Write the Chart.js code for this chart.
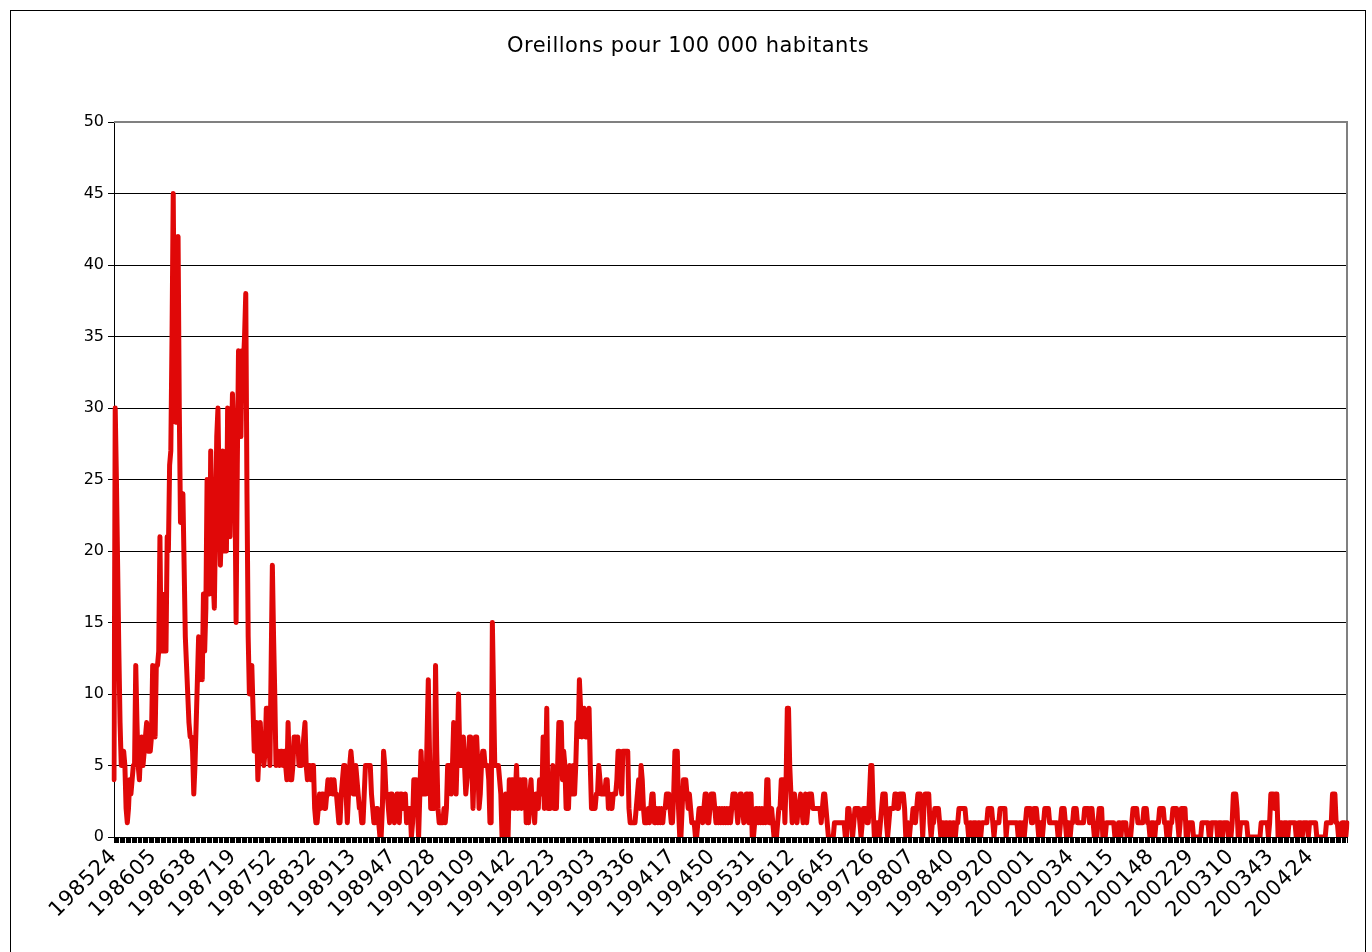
<!DOCTYPE html>
<html><head><meta charset="utf-8">
<script src="https://cdn.jsdelivr.net/npm/chart.js@4.4.0/dist/chart.umd.min.js"></script>
<style>html,body{margin:0;padding:0;background:#fff;overflow:hidden}</style>
</head><body>
<canvas id="c" width="1372" height="952"></canvas>
<script>
const chartTitle = 'Oreillons pour 100 000 habitants';
const tickLabels = ['198524','198605','198638','198719','198752','198832','198913','198947','199028','199109','199142','199223','199303','199336','199417','199450','199531','199612','199645','199726','199807','199840','199920','200001','200034','200115','200148','200229','200310','200343','200424'];
const labelEvery = 33;
const yMin = 0, yMax = 50, yStep = 5;

// weekly incidence (one value per week)
const block0 = [4,30,25,19,13,8,5,5,6,5, 2,1,2,4,3,4,5,5,12,8, 5,4,6,7,5,6,7,8,6,7, 6,7,12,8,7,12,12,13,21,13, 17,13,13,13,21,20,26,27,35,45, 33,29,30,42,30,22,23,24,19,14, 12,10,8,7,7,6,3,5,8,11, 14,11,13,11,17,13,16,25,18,17, 27,22,18,16,22,28,30,24,19,22, 27,20,21,20,30,24,21,27,31,28];
const block1 = [25,15,26,34,30,28,34,33,35,38, 24,14,10,11,12,9,6,7,8,4, 6,8,6,6,5,6,9,9,7,5, 12,19,14,10,5,6,6,5,6,6, 5,6,5,4,8,5,4,4,5,7, 7,6,7,5,5,5,6,7,8,5, 4,5,5,4,5,5,2,1,1,2, 3,2,3,3,2,2,3,4,3,4, 4,3,4,3,3,2,1,1,3,4, 5,5,3,1,3,5,6,5,3,3];
const block2 = [5,4,3,2,2,1,1,3,5,5, 5,5,5,3,2,1,1,2,2,1, 0,0,2,6,5,3,3,2,1,3, 3,2,1,2,3,3,1,3,3,2, 2,3,1,2,2,2,0,1,4,4, 4,2,0,3,6,4,3,3,3,7, 11,6,2,2,2,2,12,6,2,1, 1,1,1,2,1,2,5,5,5,3, 5,8,5,3,6,10,6,5,6,7, 5,3,4,5,7,7,5,2,5,7];
const block3 = [7,5,2,3,5,6,6,5,5,5, 4,1,1,15,10,5,5,5,5,4, 3,0,0,0,3,0,0,4,2,4, 4,2,3,5,2,3,4,2,4,4, 4,1,2,1,3,4,2,2,1,3, 3,2,4,4,3,7,2,4,9,2, 2,2,3,5,2,2,2,5,8,8, 8,4,6,5,2,2,2,5,3,4, 5,3,5,8,7,11,9,7,8,9, 7,7,7,9,5,2,2,2,2,3];
const block4 = [3,5,4,3,3,3,3,4,4,2, 3,2,2,3,3,3,4,6,6,4, 3,6,6,6,6,6,2,1,1,1, 1,1,2,3,4,2,5,4,2,1, 1,1,2,1,2,3,3,1,1,2, 1,2,1,2,1,2,2,3,3,3, 2,1,1,3,6,6,6,2,0,0, 2,4,4,4,3,2,3,2,1,1, 1,0,0,1,2,2,2,1,2,3, 3,1,1,2,3,3,3,2,1,2];
const block5 = [1,2,1,2,1,2,1,2,1,2, 1,2,3,3,3,2,1,2,3,3, 2,1,2,3,3,1,3,3,0,0, 1,2,2,1,2,1,2,1,2,1, 4,4,1,1,2,1,0,0,0,1, 2,2,4,4,4,1,4,9,9,5, 3,1,2,3,2,1,2,2,3,2, 1,2,3,1,2,3,3,3,2,2, 2,2,2,2,2,1,2,3,3,2, 1,0,0,0,0,0,1,1,1,1];
const block6 = [1,1,1,1,1,0,0,2,2,1, 1,0,1,2,2,2,2,1,0,1, 2,2,2,1,1,3,5,5,2,0, 0,1,1,0,1,2,3,3,3,1, 0,1,2,2,2,2,3,3,2,2, 3,3,3,3,2,0,0,1,0,1, 1,2,2,1,2,3,3,3,2,0, 2,3,3,3,3,1,0,1,1,2, 2,2,2,1,0,1,1,0,1,1, 0,1,1,0,1,1,0,1,1,2];
const block7 = [2,2,2,2,2,1,1,0,1,1, 0,1,1,1,0,1,1,0,1,1, 1,1,1,2,2,2,2,1,0,1, 1,1,1,2,2,2,2,2,0,1, 1,1,1,1,1,1,1,1,0,1, 1,0,1,0,1,2,2,2,2,1, 1,2,2,2,1,0,1,1,0,1, 2,2,2,2,1,1,1,1,1,1, 1,0,0,1,2,2,2,1,0,1, 1,0,1,1,2,2,2,1,1,1];
const block8 = [1,1,1,2,2,2,2,1,2,2, 1,0,0,0,1,2,2,2,0,0, 0,1,1,1,1,1,1,1,0,0, 0,1,1,0,1,1,1,1,0,0, 0,0,1,2,2,2,2,1,1,1, 1,1,2,2,2,1,1,0,1,1, 1,0,1,1,1,2,2,2,2,1, 1,0,1,0,1,1,2,2,2,2, 1,0,1,2,2,2,2,0,0,1, 1,1,1,0,0,0,0,0,0,0];
const block9 = [1,1,1,1,1,1,0,0,1,1, 1,1,1,0,1,1,1,0,1,1, 1,1,0,0,0,1,3,3,3,2, 0,0,1,1,1,1,1,1,0,0, 0,0,0,0,0,0,0,0,0,1, 1,1,1,1,1,0,1,3,3,3, 2,3,3,0,1,1,1,0,1,1, 1,0,1,1,1,1,1,1,0,0, 1,1,1,0,1,1,1,1,0,1, 1,1,1,1,1,0,0,0,0,0];
const block10 = [0,0,0,1,1,1,1,1,3,3, 3,1,1,0,0,0,1,1,1,0,1];

const values = [].concat(block0, block1, block2, block3, block4, block5, block6, block7, block8, block9, block10);
const categories = values.map((v, i) => (i % labelEvery === 0 && tickLabels[i / labelEvery]) ? tickLabels[i / labelEvery] : '');

const FONT = "'DejaVu Sans', Verdana, sans-serif";

const framePlugin = {
  id: 'frame',
  beforeDraw(chart) {
    const c = chart.ctx;
    c.letterSpacing = '0px';
    c.save();
    c.fillStyle = '#fff';
    c.fillRect(0, 0, chart.width, chart.height);
    c.strokeStyle = '#000';
    c.lineWidth = 1;
    c.strokeRect(10.5, 10.5, 1355, 1200);
    c.restore();
  },
  beforeDatasetsDraw(chart) {
    const a = chart.chartArea, c = chart.ctx;
    c.save();
    c.strokeStyle = '#808080';
    c.lineWidth = 2;
    c.beginPath();
    c.moveTo(a.left, a.top);
    c.lineTo(a.right, a.top);
    c.lineTo(a.right, a.bottom);
    c.stroke();
    c.restore();
  },
  afterDatasetsDraw(chart) {
    // x tick labels are drawn next (ticks.z = 1)
    chart.ctx.letterSpacing = '1px';
  },
  afterDraw(chart) {
    const c = chart.ctx;
    c.letterSpacing = '0.5px';
    c.save();
    c.fillStyle = '#000';
    c.font = '21px ' + FONT;
    c.textAlign = 'center';
    c.textBaseline = 'middle';
    c.fillText(chartTitle, 688, 47);
    c.restore();
    c.letterSpacing = '0px';
  }
};

new Chart(document.getElementById('c').getContext('2d'), {
  type: 'line',
  data: {
    labels: categories,
    datasets: [{
      data: values,
      borderColor: '#e00808',
      borderWidth: 5,
      pointRadius: 0,
      tension: 0,
      fill: false,
      borderJoinStyle: 'round',
      borderCapStyle: 'round'
    }]
  },
  options: {
    responsive: false,
    animation: false,
    layout: { padding: { top: 122, right: 25, left: 0, bottom: 0 } },
    plugins: { legend: { display: false }, title: { display: false }, tooltip: { enabled: false } },
    scales: {
      x: {
        type: 'category',
        offset: false,
        grid: { display: true, drawOnChartArea: false, drawTicks: true, tickLength: 6, color: '#000', lineWidth: 1 },
        border: { display: true, color: '#000', width: 1 },
        ticks: { z: 1, autoSkip: false, maxRotation: 45, minRotation: 45, color: '#000', padding: 1, font: { family: FONT, size: 21 } },
        afterFit(s) { s.height = 952 - 837; }
      },
      y: {
        min: yMin, max: yMax,
        ticks: { stepSize: yStep, color: '#000', padding: 4, font: { family: FONT, size: 16 } },
        grid: { color: '#000', lineWidth: 1, tickLength: 6 },
        border: { display: true, color: '#000', width: 1 },
        afterFit(s) { s.width = 114; }
      }
    }
  },
  plugins: [framePlugin]
});
</script>
</body></html>
